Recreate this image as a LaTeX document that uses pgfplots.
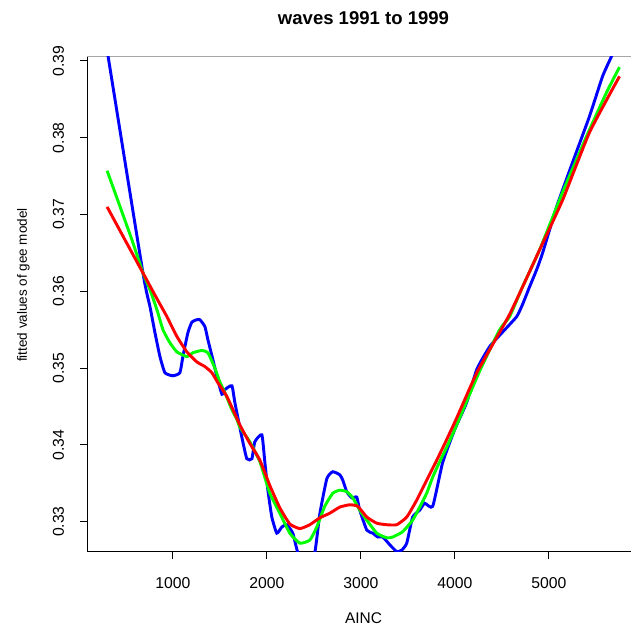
\documentclass[border=0pt]{standalone}
\usepackage{fontspec}
\setmainfont{Liberation Sans}
\usepackage{pgfplots}
\pgfplotsset{compat=1.18}
\begin{document}
\begin{tikzpicture}
\useasboundingbox (-65.25pt,-58.5pt) rectangle (408pt,414pt);
\begin{axis}[
  at={(0,0)}, anchor=south west,
  scale only axis,
  width=414.75pt, height=371.25pt,
  xmin=86, xmax=5968, ymin=0.32605, ymax=0.39052,
  axis x line*=bottom, axis y line*=left,
  axis line style={-, black, line width=0.75pt},
  xtick={1000,2000,3000,4000,5000},
  ytick={0.33,0.34,0.35,0.36,0.37,0.38,0.39},
  tick align=outside,
  major tick length=5.25pt,
  tick style={black, line width=0.75pt},
  /pgf/number format/assume math mode=true,
  xticklabel style={/pgf/number format/1000 sep={}, anchor=base, font=\fontsize{11.8}{14}\selectfont},
  yticklabel style={/pgf/number format/fixed, /pgf/number format/fixed zerofill, /pgf/number format/precision=2, rotate=90, anchor=base, font=\fontsize{11.8}{14}\selectfont},
  xticklabel shift=22pt,
  yticklabel shift=12pt,
  title={waves 1991 to 1999},
  title style={font=\bfseries\fontsize{13.9}{16}\selectfont, at={(axis description cs:0.5,1)}, anchor=base, yshift=18.3pt},
  xlabel={AINC},
  xlabel style={font=\fontsize{11.6}{14}\selectfont, at={(axis description cs:0.5,0)}, anchor=base, yshift=-53.7pt},
  ylabel={fitted values of gee model},
  ylabel style={font=\fontsize{10.1}{12}\selectfont, at={([xshift=-45pt]axis description cs:0,0.539)}, anchor=base},
  clip=true,
]
\draw[gray!70, line width=0.75pt] (rel axis cs:0,1) -- (rel axis cs:1,1);
\addplot[color={rgb,255:red,0;green,0;blue,255}, line width=2.2pt, smooth, tension=0.3] coordinates {
(300,0.3914) (681,0.3624) (756,0.3580) (809,0.3546) (862,0.3515) (915,0.3494)
(1000,0.3490) (1074,0.3494) (1106,0.3515) (1159,0.3546) (1202,0.3560) (1255,0.3563)
(1287,0.3563) (1340,0.3554) (1372,0.3537) (1425,0.3511) (1468,0.3489) (1521,0.3466)
(1553,0.3472) (1627,0.3477) (1659,0.3455) (1733,0.3410) (1786,0.3382) (1840,0.3382)
(1871,0.3404) (1946,0.3413) (1978,0.3377) (2010,0.3341) (2052,0.3306) (2105,0.3285)
(2158,0.3293) (2211,0.3296) (2275,0.3285) (2328,0.3260) (2420,0.3243) (2509,0.3260)
(2562,0.3310) (2637,0.3356) (2700,0.3365) (2775,0.3361) (2807,0.3354) (2849,0.3339)
(2902,0.3331) (2955,0.3332) (2987,0.3315) (3062,0.3289) (3125,0.3285) (3179,0.3280)
(3232,0.3280) (3306,0.3270) (3380,0.3261) (3434,0.3263) (3487,0.3272) (3550,0.3306)
(3625,0.3315) (3678,0.3324) (3763,0.3320) (3869,0.3377) (3997,0.3420) (4124,0.3455)
(4231,0.3498) (4369,0.3528) (4507,0.3547) (4656,0.3567) (4719,0.3583) (4794,0.3606)
(4868,0.3628) (4932,0.3650) (5081,0.3710) (5251,0.3768) (5431,0.3828) (5570,0.3880)
(5665,0.3906) (5750,0.3929)
};
\addplot[color={rgb,255:red,0;green,255;blue,0}, line width=2.2pt, smooth, tension=0.3] coordinates {
(300,0.3757) (564,0.3667) (681,0.3624) (756,0.3602) (830,0.3576) (894,0.3550)
(968,0.3533) (1043,0.3521) (1149,0.3515) (1213,0.3520) (1308,0.3523) (1372,0.3520)
(1446,0.3500) (1499,0.3482) (1553,0.3468) (1627,0.3446) (1681,0.3433) (1712,0.3423)
(1818,0.3404) (1925,0.3378) (2031,0.3337) (2137,0.3311) (2243,0.3285) (2350,0.3272)
(2456,0.3276) (2530,0.3293) (2615,0.3320) (2700,0.3337) (2775,0.3341) (2849,0.3339)
(2913,0.3331) (2987,0.3315) (3062,0.3302) (3168,0.3285) (3274,0.3279) (3338,0.3280)
(3444,0.3287) (3550,0.3302) (3625,0.3319) (3699,0.3337) (3763,0.3358) (3837,0.3378)
(3912,0.3397) (4018,0.3426) (4262,0.3496) (4475,0.3550) (4581,0.3567) (4719,0.3606)
(4900,0.3654) (5145,0.3729) (5400,0.3802) (5612,0.3859) (5750,0.3892)
};
\addplot[color={rgb,255:red,255;green,0;blue,0}, line width=2.2pt, smooth, tension=0.3] coordinates {
(300,0.3710) (490,0.3667) (681,0.3624) (809,0.3595) (936,0.3567) (1043,0.3541)
(1149,0.3521) (1255,0.3508) (1340,0.3502) (1414,0.3494) (1478,0.3481) (1574,0.3463)
(1712,0.3426) (1818,0.3402) (1925,0.3380) (2031,0.3347) (2137,0.3318) (2243,0.3297)
(2350,0.3291) (2456,0.3296) (2562,0.3305) (2668,0.3311) (2775,0.3319) (2881,0.3322)
(2966,0.3320) (3062,0.3306) (3168,0.3298) (3274,0.3296) (3380,0.3296) (3487,0.3306)
(3593,0.3328) (3699,0.3354) (3806,0.3380) (3912,0.3407) (4018,0.3435) (4241,0.3496)
(4581,0.3570) (4900,0.3654) (5145,0.3719) (5431,0.3807) (5750,0.3880)
};
\end{axis}
\end{tikzpicture}
\end{document}
